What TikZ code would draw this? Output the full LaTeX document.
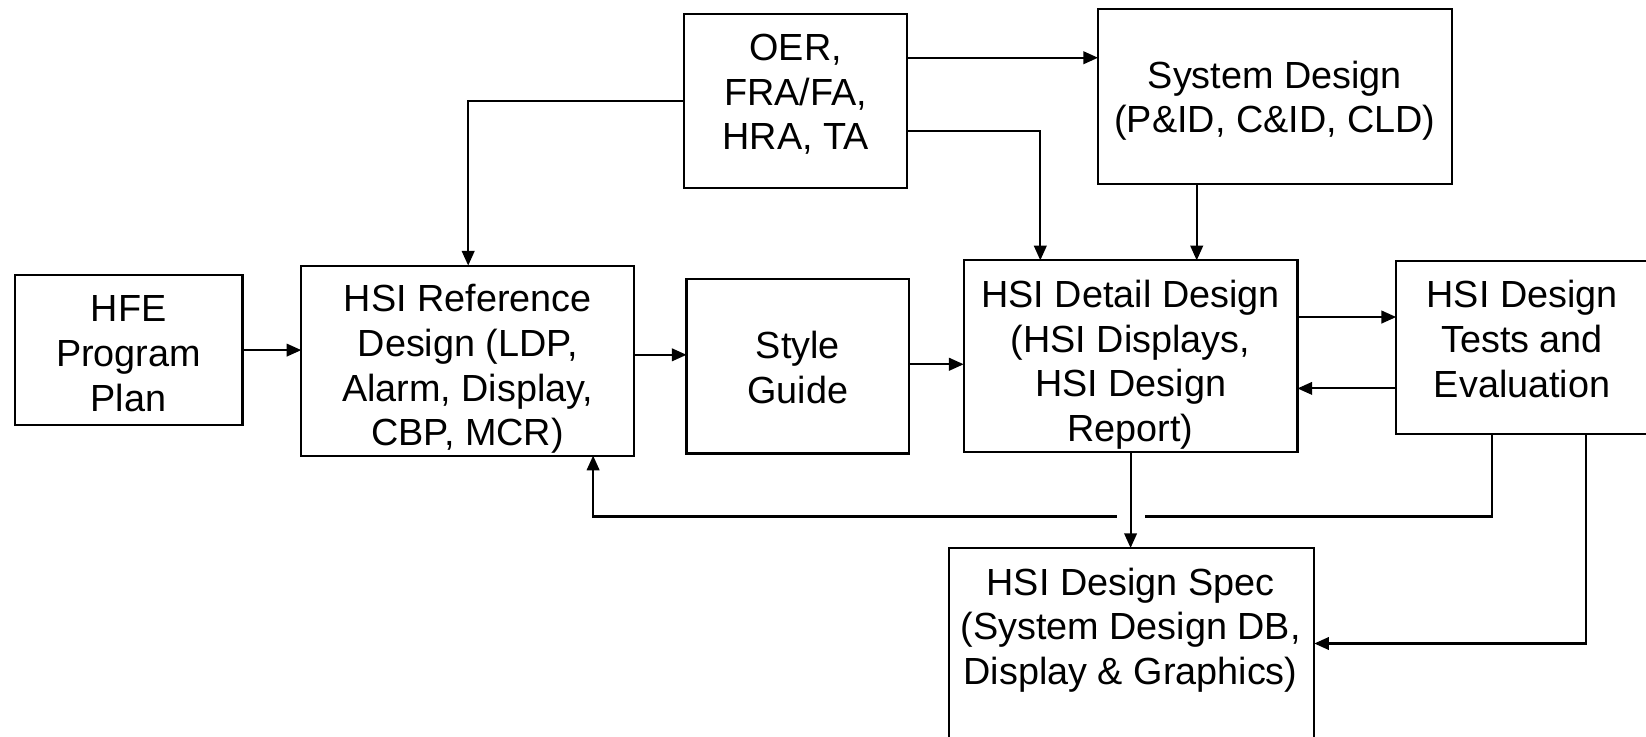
\documentclass[tikz,border=0pt]{standalone}
\usepackage{fontspec}
\setmainfont{Liberation Sans}
\usetikzlibrary{arrows.meta}

\tikzset{
  box/.style={draw, line width=1pt, inner sep=0pt, outer sep=0pt},
  txt/.style={align=center, inner sep=0pt, font=\fontsize{18}{21.25}\selectfont},
  arr/.style={line width=1pt, -{Triangle[length=7pt,width=6pt]}}
}

\begin{document}
\begin{tikzpicture}[x=0.5pt, y=-0.5pt]
  \useasboundingbox (0,0) rectangle (1568,702);

  % boxes
  \node[box, minimum width=108.5pt, minimum height=71.5pt] (hfe)  at (122.5,333.5) {};
  \node[box, minimum width=158.5pt, minimum height=90.5pt] (ref)  at (445.5,343.5) {};
  \node[box, minimum width=106pt,   minimum height=83pt]   (style) at (760,349) {};
  \node[box, minimum width=106pt,   minimum height=83pt]   (oer)  at (758,96) {};
  \node[box, minimum width=168.5pt, minimum height=83pt]   (sys)  at (1214.5,92) {};
  \node[box, minimum width=159pt,   minimum height=91.5pt] (det)  at (1077,339.5) {};
  \node[box, minimum width=121pt,   minimum height=82pt]   (test) at (1451,331) {};
  \node[box, minimum width=174pt,   minimum height=97pt]   (spec) at (1078,619) {};

  % box texts
  \node[txt] (hfe-t)   at (122.5,337) {HFE\\Program\\Plan};
  \node[txt] (ref-t)   at (445.5,351.5) {HSI Reference\\Design (LDP,\\Alarm, Display,\\CBP, MCR)};
  \node[txt] (style-t) at (760,350) {Style\\Guide};
  \node[txt] (oer-t)   at (758,90) {OER,\\FRA/FA,\\HRA, TA};
  \node[txt] (sys-t)   at (1214.5,96) {System Design\\(P\&ID, C\&ID, CLD)};
  \node[txt] (det-t)   at (1077,347.5) {HSI Detail Design\\(HSI Displays,\\HSI Design\\Report)};
  \node[txt] (test-t)  at (1450,323) {HSI Design\\Tests and\\Evaluation};
  \node[txt] (spec-t)  at (1077,600) {HSI Design Spec\\(System Design DB,\\Display \& Graphics)};

  % routing levels
  \coordinate (hA) at (0,338);
  \coordinate (hB) at (0,347);
  \coordinate (hC) at (0,55);
  \coordinate (hD) at (0,125);
  \coordinate (vD) at (991,0);
  \coordinate (vE) at (446,0);
  \coordinate (vF) at (1140,0);
  \coordinate (hG) at (0,302);
  \coordinate (hH) at (0,370);
  \coordinate (vI) at (1077,0);
  \coordinate (vJ) at (1421,0);
  \coordinate (hJ) at (0,492);
  \coordinate (vK) at (565,0);
  \coordinate (vL) at (1511,0);
  \coordinate (hL) at (0,613);

  % connectors
  \draw[arr] (hfe.east) -- (hfe.east -| ref.west);
  \draw[arr] (ref.east |- hA) -- (style.west |- hA);
  \draw[arr] (style.east |- hB) -- (det.west |- hB);
  \draw[arr] (oer.east |- hC) -- (sys.west |- hC);
  \draw[arr] (oer.east |- hD) -| (vD |- det.north);
  \draw[arr] (oer.west) -| (vE |- ref.north);
  \draw[arr] (vF |- sys.south) -- (vF |- det.north);
  \draw[arr] (det.east |- hG) -- (test.west |- hG);
  \draw[arr] (test.west |- hH) -- (det.east |- hH);
  \draw[arr] (vJ |- test.south) |- (vK |- hJ) -- (vK |- ref.south);
  % line jump where the feedback line crosses the spec arrow
  \fill[white] (1064,485) rectangle (1091,499);
  \draw[arr] (vI |- det.south) -- (vI |- spec.north);
  \draw[arr] (vL |- test.south) |- (spec.east |- hL);
\end{tikzpicture}
\end{document}
